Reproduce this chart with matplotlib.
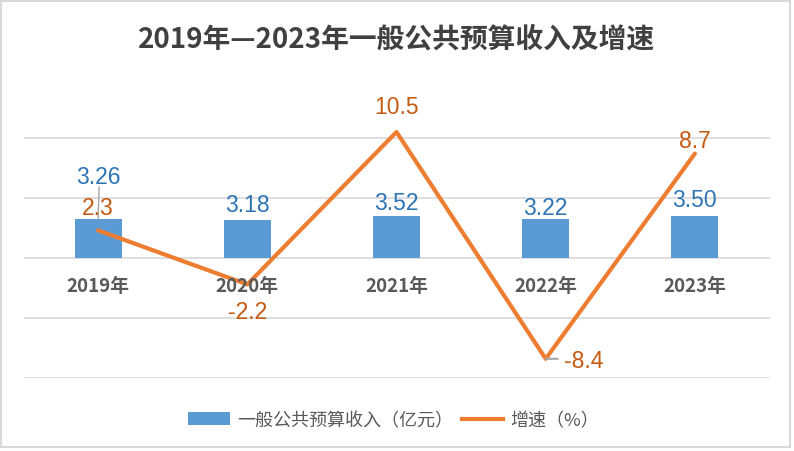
import matplotlib
matplotlib.use("Agg")
import matplotlib.pyplot as plt
from matplotlib.patches import Rectangle, Patch
from matplotlib.lines import Line2D

plt.rcParams['font.family'] = ['Noto Sans CJK SC', 'DejaVu Sans']

# data
years = ['2019年', '2020年', '2021年', '2022年', '2023年']
revenue = [3.26, 3.18, 3.52, 3.22, 3.50]      # 亿元
growth = [2.3, -2.2, 10.5, -8.4, 8.7]         # %
title = '2019年—2023年一般公共预算收入及增速'
bar_name = '一般公共预算收入（亿元）'
line_name = '增速（%）'

blue = '#5B9BD5'
orange = '#ED7D31'
blue_txt = '#2E75B6'
orange_txt = '#C55A11'
grid_c = '#D9D9D9'

fig = plt.figure(figsize=(7.94, 4.52), dpi=100)
ax = fig.add_axes([23.5 / 794, 1 - 379 / 452, 746 / 794, 300 / 452])

x = list(range(len(years)))
ax.bar(x, revenue, width=0.315, color=blue, zorder=2)
ax.plot(x, growth, color=orange, lw=3, solid_capstyle='round', zorder=3, clip_on=False)

ax.set_xlim(-0.5, 4.5)
ax.set_ylim(-10, 15)
for y in [-10, -5, 0, 5, 10]:
    ax.axhline(y, color=grid_c, lw=1.2, zorder=1)
ax.set_xticks([])
ax.set_yticks([])
for s in ax.spines.values():
    s.set_visible(False)

# category labels sit under the zero line
for i, name in enumerate(years):
    ax.annotate(name, (i, 0), xytext=(0, -27), textcoords='offset pixels',
                ha='center', va='center', fontsize=13.5, fontweight='bold',
                color='#595959', zorder=4)

# bar value labels
bar_off = [42, 15, 13, 12, 16]
for i, v in enumerate(revenue):
    ax.annotate(f'{v:.2f}', (i, v), xytext=(0, bar_off[i]), textcoords='offset pixels',
                ha='center', va='center', fontsize=16.5, family='Liberation Sans',
                color=blue_txt, zorder=5)
# leader line for the 2019 label
ax.annotate('', (0, revenue[0]), xytext=(1, 32), textcoords='offset pixels',
            arrowprops=dict(arrowstyle='-', color='#A6A6A6', lw=1, shrinkA=0, shrinkB=0))

# growth labels
line_off = [(0, 23), (0, -27), (0, 25), (38, -2), (0, 13)]
for i, v in enumerate(growth):
    ax.annotate(f'{v:.1f}', (i, v), xytext=line_off[i], textcoords='offset pixels',
                ha='center', va='center', fontsize=16.5, family='Liberation Sans',
                color=orange_txt, zorder=5)
ax.annotate('', (3, growth[3]), xytext=(12, 0), textcoords='offset pixels',
            arrowprops=dict(arrowstyle='-', color='#A6A6A6', lw=1.5, shrinkA=0, shrinkB=0))

fig.text(0.5, 1 - 40 / 452, title, ha='center', va='center', fontsize=20,
         fontweight='bold', color='#404040')

handles = [Patch(facecolor=blue, edgecolor='none'),
           Line2D([0], [0], color=orange, lw=3)]
fig.legend(handles, [bar_name, line_name], loc='center', ncol=2,
           bbox_to_anchor=(0.496, 1 - 421 / 452), frameon=False, fontsize=13,
           labelcolor='#595959', handlelength=2.3, handleheight=0.7,
           handletextpad=0.4, columnspacing=0.5)

# chart frame
fig.patches.append(Rectangle((1 / 794, 4 / 452), 789 / 794, 446 / 452,
                             transform=fig.transFigure, fill=False,
                             edgecolor=grid_c, lw=1.5))

fig.savefig('out.png', dpi=100)
